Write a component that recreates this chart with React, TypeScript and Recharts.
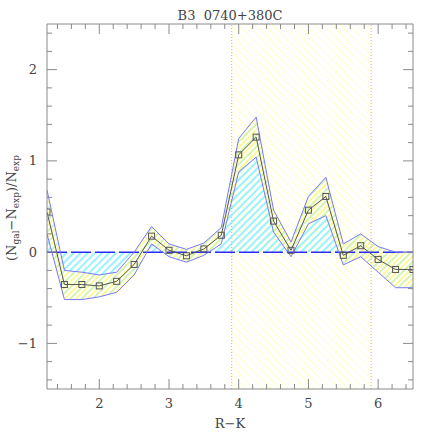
import React from 'react';
import { ComposedChart, Area, Line, XAxis, YAxis, ReferenceArea, ReferenceLine } from 'recharts';

const xVals = [1.25, 1.5, 1.75, 2, 2.25, 2.5, 2.75, 3, 3.25, 3.5, 3.75, 4, 4.25, 4.5, 4.75, 5, 5.25, 5.5, 5.75, 6, 6.25, 6.5];
const meanVals = [0.44, -0.355, -0.355, -0.37, -0.32, -0.135, 0.175, 0.02, -0.04, 0.035, 0.185, 1.066, 1.26, 0.34, 0.02, 0.46, 0.61, -0.035, 0.07, -0.08, -0.19, -0.19];
const upperVals = [0.68, -0.2, -0.22, -0.25, -0.22, 0.0, 0.28, 0.09, 0.03, 0.1, 0.27, 1.245, 1.48, 0.46, 0.11, 0.61, 0.82, 0.09, 0.2, 0.06, 0.0, 0.0];
const lowerVals = [0.2, -0.52, -0.52, -0.49, -0.44, -0.25, 0.09, -0.05, -0.11, -0.035, 0.09, 0.88, 1.04, 0.22, -0.05, 0.31, 0.4, -0.14, -0.05, -0.22, -0.39, -0.39];

// major ticks are the integers, the rest are minor
const xTicks = [1.4, 1.6, 1.8, 2, 2.2, 2.4, 2.6, 2.8, 3, 3.2, 3.4, 3.6, 3.8, 4, 4.2, 4.4, 4.6, 4.8, 5, 5.2, 5.4, 5.6, 5.8, 6, 6.2, 6.4];
const yTicks = [-1.4, -1.2, -1, -0.8, -0.6, -0.4, -0.2, 0, 0.2, 0.4, 0.6, 0.8, 1, 1.2, 1.4, 1.6, 1.8, 2, 2.2, 2.4];

const windowRange = [3.9, 5.9];
const title = 'B3\u00a0 0740+380C';

const data = xVals.map((x, i) => ({
    x,
    mean: meanVals[i],
    upper: upperVals[i],
    lower: lowerVals[i],
    band: [lowerVals[i], upperVals[i]],
}));

const font = 'DejaVu Serif, serif';
const frameColor = '#8a8a8a';
const frame = { stroke: frameColor, strokeWidth: 1 };
const minus = (v: number) => (v < 0 ? `\u2212${Math.abs(v)}` : `${v}`);

const XTick = (props: any) => {
    const { x, y, payload, side } = props;
    const v = payload.value;
    const major = Number.isInteger(v);
    const len = major ? 10 : 5;
    const dir = side === 'bottom' ? -1 : 1;
    return (
        <g>
            <line x1={x} y1={y} x2={x} y2={y + dir * len} stroke={frameColor} />
            {side === 'bottom' && major && (
                <text x={x} y={y + 19} textAnchor="middle" fontFamily={font} fontSize={13} fill="#444">{minus(v)}</text>
            )}
        </g>
    );
};

const YTick = (props: any) => {
    const { x, y, payload, side } = props;
    const v = payload.value;
    const major = Number.isInteger(v);
    const len = major ? 10 : 5;
    const dir = side === 'left' ? 1 : -1;
    return (
        <g>
            <line x1={x} y1={y} x2={x + dir * len} y2={y} stroke={frameColor} />
            {side === 'left' && major && (
                <text x={x - 10} y={y + 4.5} textAnchor="end" fontFamily={font} fontSize={13} fill="#444">{minus(v)}</text>
            )}
        </g>
    );
};

const Square = (props: any) => {
    const { cx, cy, index } = props;
    if (cx == null || cy == null) return <g key={`sq-${index}`} />;
    return <rect key={`sq-${index}`} x={cx - 3} y={cy - 3} width={6} height={6} fill="none" stroke="#555" strokeWidth={1} />;
};

const clipShape = (id: string) => (p: any) => (
    <clipPath id={id}>
        <rect x={p.x} y={p.y} width={p.width} height={p.height} />
    </clipPath>
);

const TitleLabel = () => (
    <text x={230} y={20} textAnchor="middle" fontFamily={font} fontSize={13} fill="#444">{title}</text>
);

const XLabel = () => (
    <text x={230} y={428} textAnchor="middle" fontFamily={font} fontSize={13} fill="#444">R{'\u2212'}K</text>
);

const YLabel = () => (
    <text transform="translate(16,208) rotate(-90)" textAnchor="middle" fontFamily={font} fontSize={13} fill="#444">
        (N<tspan fontSize={9} dy={3}>gal</tspan>
        <tspan dy={-3}>{'\u2212'}N</tspan>
        <tspan fontSize={9} dy={3}>exp</tspan>
        <tspan dy={-3}>)/N</tspan>
        <tspan fontSize={9} dy={3}>exp</tspan>
    </text>
);

export default function App() {
    const ax = { xAxisId: 'b', yAxisId: 'l' };
    const xCommon = { dataKey: 'x', type: 'number' as const, domain: [1.25, 6.5], allowDataOverflow: true, ticks: xTicks, interval: 0, height: 1, tickSize: 0, tickMargin: 0, axisLine: frame, tickLine: false };
    const yCommon = { type: 'number' as const, domain: [-1.5, 2.5], allowDataOverflow: true, ticks: yTicks, interval: 0, width: 1, tickSize: 0, tickMargin: 0, axisLine: frame, tickLine: false };
    // axes are 1px thick (0 would not render); plot area ends up at 47..413 x 24..389
    return (
        <div style={{ position: 'absolute', left: 0, top: 0, width: 436, height: 436, background: '#fff' }}>
            <style>{`
                .cyan-pos .recharts-area-area { clip-path: url(#posClip); }
                .cyan-neg .recharts-area-area { clip-path: url(#negClip); }
            `}</style>
            <ComposedChart width={436} height={436} data={data} margin={{ top: 23, right: 22, bottom: 46, left: 46 }}>
                <defs>
                    <pattern id="cyanHatch" width="5" height="5" patternUnits="userSpaceOnUse" patternTransform="rotate(45)">
                        <line x1="1" y1="0" x2="1" y2="5" stroke="#7ff0ff" strokeWidth="1.6" />
                    </pattern>
                    <pattern id="bandHatch" width="8" height="8" patternUnits="userSpaceOnUse" patternTransform="rotate(45)">
                        <line x1="1" y1="0" x2="1" y2="8" stroke="#f8f870" strokeWidth="1.4" />
                        <line x1="5" y1="0" x2="5" y2="8" stroke="#c4f08a" strokeWidth="1.4" />
                    </pattern>
                    <pattern id="bandDots" width="6" height="6" patternUnits="userSpaceOnUse" patternTransform="rotate(-45)">
                        <line x1="1" y1="0" x2="1" y2="6" stroke="#ffff99" strokeWidth="1.5" strokeDasharray="1 2" />
                    </pattern>
                </defs>

                <XAxis xAxisId="b" {...xCommon} tick={<XTick side="bottom" />} label={<XLabel />} />
                <XAxis xAxisId="t" orientation="top" {...xCommon} tick={<XTick side="top" />} label={<TitleLabel />} />
                <YAxis yAxisId="l" {...yCommon} tick={<YTick side="left" />} label={<YLabel />} />
                <YAxis yAxisId="r" orientation="right" {...yCommon} tick={<YTick side="right" />} />

                <ReferenceArea {...ax} x1={windowRange[0]} x2={windowRange[1]} fill="url(#bandDots)" fillOpacity={1} stroke="none" />
                <ReferenceArea {...ax} y1={0} y2={2.5} shape={clipShape('posClip')} />
                <ReferenceArea {...ax} y1={-1.5} y2={0} shape={clipShape('negClip')} />

                <Area {...ax} type="linear" dataKey="band" fill="url(#bandHatch)" fillOpacity={1} stroke="none" isAnimationActive={false} />
                <Area {...ax} className="cyan-pos" type="linear" dataKey="lower" baseValue={0} fill="url(#cyanHatch)" fillOpacity={1} stroke="none" isAnimationActive={false} />
                <Area {...ax} className="cyan-neg" type="linear" dataKey="upper" baseValue={0} fill="url(#cyanHatch)" fillOpacity={1} stroke="none" isAnimationActive={false} />

                <ReferenceLine {...ax} x={windowRange[0]} stroke="#f0a0a0" strokeDasharray="1 2" />
                <ReferenceLine {...ax} x={windowRange[1]} stroke="#f0a0a0" strokeDasharray="1 2" />
                <ReferenceLine {...ax} y={0} stroke="#2a2aff" strokeWidth={1.5} strokeDasharray="20 4" />

                <Line {...ax} type="linear" dataKey="upper" stroke="#7878ff" strokeWidth={1} dot={false} isAnimationActive={false} />
                <Line {...ax} type="linear" dataKey="lower" stroke="#7878ff" strokeWidth={1} dot={false} isAnimationActive={false} />
                <Line {...ax} type="linear" dataKey="mean" stroke="#555" strokeWidth={1} dot={Square} isAnimationActive={false} />
            </ComposedChart>
        </div>
    );
}
